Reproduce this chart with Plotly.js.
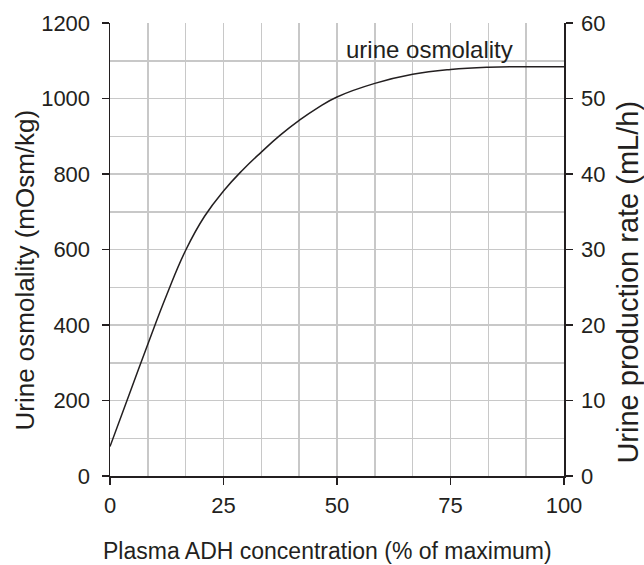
<!DOCTYPE html>
<html>
<head>
<meta charset="utf-8">
<script src="https://cdn.plot.ly/plotly-3.0.1.min.js"></script>
<style>html,body{margin:0;padding:0;background:#fff;}#chart{width:644px;height:565px;}</style>
</head>
<body>
<div id="chart"></div>
<script>
const adh = [0, 4.17, 8.33, 12.5, 16.67, 20.83, 25, 29.17, 33.33, 37.5, 41.67, 45.83, 50, 58.33, 66.67, 75, 83.33, 91.67, 100];
const osmolality = [78, 214, 349, 480, 598, 688, 755, 810, 858, 903, 942, 976, 1004, 1040, 1064, 1077, 1083, 1084, 1084];
const xTicks = [0, 25, 50, 75, 100];
const yTicks = [0, 200, 400, 600, 800, 1000, 1200];
const y2Ticks = [0, 10, 20, 30, 40, 50, 60];
const curveLabel = "urine osmolality";
const xTitle = "Plasma ADH concentration (% of maximum)";
const yTitle = "Urine osmolality (mOsm/kg)";
const y2Title = "Urine production rate (mL/h)";

const ink = "#231f20";
const grid = "#c8c8c8";
const fam = "Liberation Sans, Arial, sans-serif";
const tickFont = {family: fam, size: 22, color: ink};

const traces = [
  {x: adh, y: osmolality, type: "scatter", mode: "lines",
   line: {color: ink, width: 1.5, shape: "spline", smoothing: 1.3},
   hoverinfo: "skip", showlegend: false},
  {x: [], y: [], type: "scatter", mode: "lines", yaxis: "y2", showlegend: false}
];

const layout = {
  width: 644, height: 565,
  margin: {l: 110, r: 80, t: 23, b: 89},
  paper_bgcolor: "#fff", plot_bgcolor: "#fff",
  font: tickFont,
  showlegend: false,
  xaxis: {
    range: [0, 100], tickvals: xTicks, ticktext: xTicks.map(String),
    ticks: "outside", ticklen: 7, tickwidth: 1.5, tickcolor: ink,
    showline: true, linecolor: ink, linewidth: 1.5,
    showgrid: true, gridcolor: grid, gridwidth: 1.5,
    minor: {dtick: 100/12, tick0: 0, showgrid: true, gridcolor: grid, gridwidth: 1.5, ticks: ""},
    zeroline: false, tickfont: tickFont, ticklabelstandoff: 2
  },
  yaxis: {
    range: [0, 1200], tickvals: yTicks, ticktext: yTicks.map(String),
    ticks: "outside", ticklen: 7, tickwidth: 1.5, tickcolor: ink,
    showline: true, linecolor: ink, linewidth: 1.5,
    showgrid: true, gridcolor: grid, gridwidth: 1.5,
    minor: {dtick: 100, tick0: 0, showgrid: true, gridcolor: grid, gridwidth: 1.5, ticks: ""},
    zeroline: false, tickfont: tickFont, ticklabelstandoff: 7
  },
  yaxis2: {
    range: [0, 60], tickvals: y2Ticks, ticktext: y2Ticks.map(String),
    overlaying: "y", side: "right", anchor: "x",
    ticks: "outside", ticklen: 7, tickwidth: 1.5, tickcolor: ink,
    showline: true, linecolor: ink, linewidth: 1.5,
    showgrid: false, zeroline: false, tickfont: tickFont, ticklabelstandoff: 4
  },
  annotations: [
    {x: 70.4, y: 1130, xref: "x", yref: "y", text: curveLabel, showarrow: false,
     font: {family: fam, size: 24, color: ink}, xanchor: "center", yanchor: "middle"},
    {x: 0.480, y: -0.166, xref: "paper", yref: "paper", text: xTitle, showarrow: false,
     font: {family: fam, size: 23, color: ink}, xanchor: "center", yanchor: "middle"},
    {x: -0.188, y: 0.455, xref: "paper", yref: "paper", text: yTitle, showarrow: false, textangle: -90,
     font: {family: fam, size: 26, color: ink}, xanchor: "center", yanchor: "middle"},
    {x: 1.141, y: 0.427, xref: "paper", yref: "paper", text: y2Title, showarrow: false, textangle: -90,
     font: {family: fam, size: 29, color: ink}, xanchor: "center", yanchor: "middle"}
  ]
};

Plotly.newPlot("chart", traces, layout, {displayModeBar: false, staticPlot: true});
</script>
</body>
</html>
